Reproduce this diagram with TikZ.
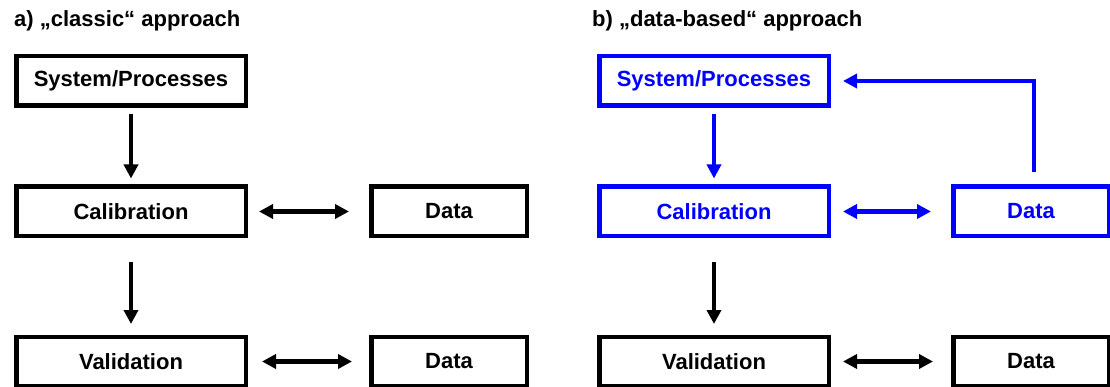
\documentclass[tikz,border=0pt]{standalone}
\usepackage{fontspec}
\setmainfont{Liberation Sans}
\usepackage{xcolor}
\usepackage{tikz}
\usetikzlibrary{calc,arrows.meta}
\definecolor{ink}{HTML}{000000}
\definecolor{databl}{HTML}{0000FF}
\tikzset{
  >={Triangle[length=14pt,width=14pt]},
  box/.style={draw=ink, text=ink, line width=4.5pt, inner sep=0pt,
    minimum width=229.5pt, minimum height=49.5pt,
    font=\fontsize{22}{26}\selectfont\bfseries},
  dbox/.style={box, minimum width=155.5pt},
  new/.style={draw=databl, text=databl},
  arr/.style={draw=ink, line width=4.5pt, ->},
  both/.style={draw=ink, line width=4.5pt, <->},
  newarr/.style={draw=databl},
  ttl/.style={anchor=base west, inner sep=0pt, text=ink,
    font=\fontsize{22}{26}\selectfont\bfseries},
}
\begin{document}
\begin{tikzpicture}[x=1pt,y=-1pt]
  \useasboundingbox (0,0) rectangle (1110,387);

  % a) classic approach
  \node[ttl] (ta) at (14,27) {a) „classic“ approach};
  \node[box] (sysA) at (131,81) {System/Processes};
  \node[box] (calA) at (131,211.5) {Calibration};
  \node[box] (valA) at (131,361.5) {Validation};
  \node[dbox] (datA) at (449,211.5) {Data};
  \node[dbox] (datA2) at (449,361.5) {Data};

  \draw[arr,shorten <=6pt,shorten >=6pt] (sysA) -- (calA);
  \draw[arr,shorten <=23.5pt,shorten >=10.5pt] (calA) -- (valA);
  \draw[both,shorten <=11pt,shorten >=20pt] (calA) -- (datA);
  \draw[both,shorten <=14pt,shorten >=17pt] (valA) -- (datA2);

  % b) data-based approach
  \node[ttl] (tb) at (592,27) {b) „data-based“ approach};
  \node[box,new] (sysB) at (714,81) {System/Processes};
  \node[box,new] (calB) at (714,211.5) {Calibration};
  \node[box] (valB) at (714,361.5) {Validation};
  \node[dbox,new] (datB) at (1031,211.5) {Data};
  \node[dbox] (datB2) at (1031,361.5) {Data};

  \draw[arr,newarr,shorten <=6pt,shorten >=6pt] (sysB) -- (calB);
  \draw[arr,shorten <=23.5pt,shorten >=10.5pt] (calB) -- (valB);
  \draw[both,newarr,shorten <=12pt,shorten >=20pt] (calB) -- (datB);
  \draw[both,shorten <=12pt,shorten >=18pt] (valB) -- (datB2);
  \draw[arr,newarr,shorten <=12pt,shorten >=12pt] ([xshift=3pt]datB.north) |- (sysB.east);
\end{tikzpicture}
\end{document}
